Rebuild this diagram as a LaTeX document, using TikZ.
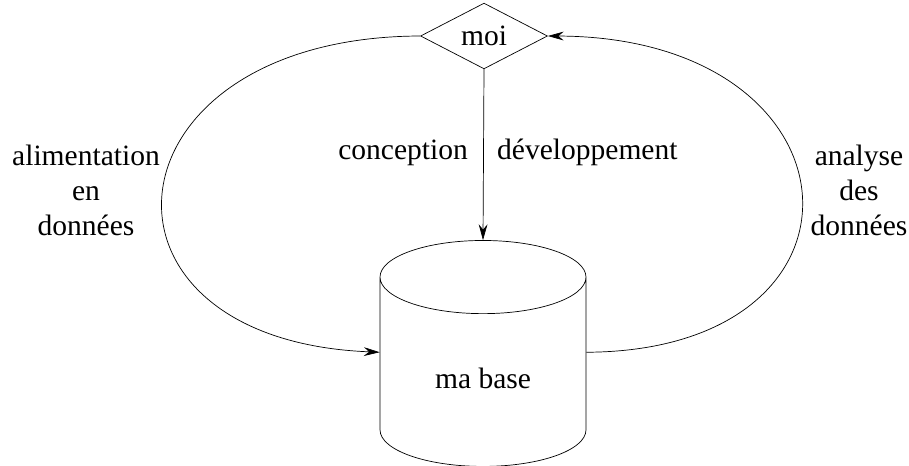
\documentclass[tikz,border=0pt]{standalone}
\usepackage{fontspec}
\newfontfamily\timesfont{Liberation Serif}
\usetikzlibrary{shapes.geometric,arrows.meta}

\begin{document}
\begin{tikzpicture}[x=0.02cm,y=-0.02cm,>={Stealth[length=9pt,width=5pt,inset=3pt]},
    font=\timesfont\fontsize{16.8}{19.9}\selectfont]
    \useasboundingbox (0,0) rectangle (909,466);
    \node[diamond,draw,inner sep=0pt,minimum width=2.54cm,minimum height=1cm] (moi) at (484,36) {moi};
    \node[cylinder,shape border rotate=90,draw,aspect=0.68,minimum width=4.12cm,minimum height=4.52cm] (base) at (483,378) {ma base};
    \draw[->] (moi.south) -- (base.north);
    \draw[->] (moi.west) .. controls (100,37) and (70,340) .. (base.166);
    \draw[->] (base.14) .. controls (890,351) and (868,37) .. (moi.east);
    \node[anchor=base east] (C1) at (474,159) {conception};
    \node[anchor=base west] (D1) at (491,159) {développement};
    \node[align=center] (A1) at (86,190) {alimentation\\en\\données};
    \node[align=center] (A2) at (859,190) {analyse\\des\\données};
  \end{tikzpicture}
\end{document}
